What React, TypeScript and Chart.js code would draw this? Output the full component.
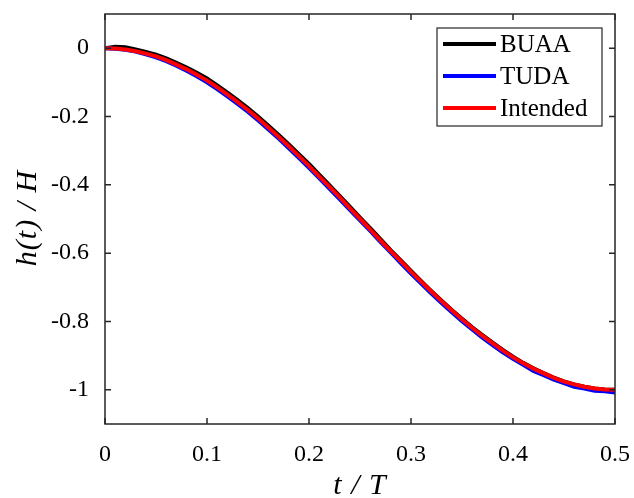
import React, { useEffect, useRef } from "react";
import { Chart, registerables } from "chart.js";

Chart.register(...registerables);

const T_VALUES = [
  0, 0.01, 0.02, 0.03, 0.04, 0.05, 0.06, 0.07, 0.08, 0.09,
  0.1, 0.11, 0.12, 0.13, 0.14, 0.15, 0.16, 0.17, 0.18, 0.19,
  0.2, 0.21, 0.22, 0.23, 0.24, 0.25, 0.26, 0.27, 0.28, 0.29,
  0.3, 0.31, 0.32, 0.33, 0.34, 0.35, 0.36, 0.37, 0.38, 0.39,
  0.4, 0.41, 0.42, 0.43, 0.44, 0.45, 0.46, 0.47, 0.48, 0.49, 0.5,
];

const BUAA = [
  0, 0.004, 0.003, -0.004, -0.011, -0.019, -0.03, -0.043, -0.057, -0.072,
  -0.089, -0.109, -0.13, -0.152, -0.175, -0.2, -0.226, -0.253, -0.281, -0.31,
  -0.339, -0.37, -0.401, -0.432, -0.464, -0.496, -0.527, -0.559, -0.591, -0.621,
  -0.652, -0.682, -0.711, -0.739, -0.766, -0.792, -0.817, -0.84, -0.862, -0.883,
  -0.903, -0.921, -0.937, -0.951, -0.964, -0.975, -0.984, -0.991, -0.996, -0.999, -1.0,
];

const TUDA = [
  0, -0.002, -0.005, -0.01, -0.018, -0.027, -0.038, -0.051, -0.066, -0.082,
  -0.1, -0.12, -0.141, -0.163, -0.186, -0.211, -0.237, -0.264, -0.292, -0.321,
  -0.35, -0.38, -0.411, -0.442, -0.473, -0.504, -0.535, -0.567, -0.598, -0.629,
  -0.66, -0.689, -0.718, -0.746, -0.773, -0.799, -0.823, -0.847, -0.869, -0.89,
  -0.909, -0.927, -0.945, -0.957, -0.97, -0.98, -0.991, -0.996, -1.003, -1.004, -1.008,
];

const INTENDED = [
  0, -0.001, -0.004, -0.009, -0.016, -0.024, -0.035, -0.048, -0.062, -0.078,
  -0.095, -0.115, -0.136, -0.158, -0.181, -0.206, -0.232, -0.259, -0.287, -0.316,
  -0.345, -0.376, -0.406, -0.437, -0.469, -0.5, -0.531, -0.563, -0.594, -0.624,
  -0.655, -0.684, -0.713, -0.741, -0.768, -0.794, -0.819, -0.842, -0.864, -0.885,
  -0.905, -0.922, -0.938, -0.952, -0.965, -0.976, -0.984, -0.991, -0.996, -0.999, -1.0,
];

const X_TICKS = [0, 0.1, 0.2, 0.3, 0.4, 0.5];
const Y_TICKS = [-1, -0.8, -0.6, -0.4, -0.2, 0];
const X_TICK_LABELS = ["0", "0.1", "0.2", "0.3", "0.4", "0.5"];
const Y_TICK_LABELS = ["-1", "-0.8", "-0.6", "-0.4", "-0.2", "0"];
const SERIES_NAMES = ["BUAA", "TUDA", "Intended"];
const SERIES_COLORS = ["#000000", "#0000ff", "#ff0000"];
const X_TITLE = "t / T";
const Y_TITLE = "h(t) / H";

const AXIS_COLOR = "#262626";
const FONT = '"Liberation Serif", "Times New Roman", serif';

function toPoints(ys: number[]) {
  return ys.map((y, i) => ({ x: T_VALUES[i], y }));
}

const framePlugin = {
  id: "framePlugin",
  afterDatasetsDraw(chart: any) {
    const { ctx, chartArea, scales } = chart;
    const { left, right, top, bottom } = chartArea;
    ctx.save();
    ctx.strokeStyle = AXIS_COLOR;
    ctx.lineWidth = 1.5;
    ctx.strokeRect(left, top, right - left, bottom - top);
    const tl = 6;
    ctx.beginPath();
    X_TICKS.forEach((v) => {
      const px = scales.x.getPixelForValue(v);
      ctx.moveTo(px, bottom);
      ctx.lineTo(px, bottom - tl);
      ctx.moveTo(px, top);
      ctx.lineTo(px, top + tl);
    });
    Y_TICKS.forEach((v) => {
      const py = scales.y.getPixelForValue(v);
      ctx.moveTo(left, py);
      ctx.lineTo(left + tl, py);
      ctx.moveTo(right, py);
      ctx.lineTo(right - tl, py);
    });
    ctx.stroke();

    // legend
    const lx = 437, ly = 28, lw = 165, lh = 98;
    ctx.fillStyle = "#ffffff";
    ctx.fillRect(lx, ly, lw, lh);
    ctx.lineWidth = 1.2;
    ctx.strokeStyle = AXIS_COLOR;
    ctx.strokeRect(lx, ly, lw, lh);
    ctx.font = `25px ${FONT}`;
    ctx.textBaseline = "middle";
    ctx.textAlign = "left";
    SERIES_NAMES.forEach((name, i) => {
      const y = ly + 16 + i * 32;
      ctx.strokeStyle = SERIES_COLORS[i];
      ctx.lineWidth = 4;
      ctx.beginPath();
      ctx.moveTo(443, y);
      ctx.lineTo(496, y);
      ctx.stroke();
      ctx.fillStyle = "#000000";
      ctx.fillText(name, 500, y + 1);
    });

    // axis titles
    ctx.fillStyle = "#000000";
    ctx.font = `italic 30px ${FONT}`;
    ctx.textAlign = "center";
    ctx.textBaseline = "alphabetic";
    (ctx as any).letterSpacing = "1px";
    ctx.fillText(X_TITLE, 360, 494);
    ctx.save();
    ctx.translate(36, 218);
    ctx.rotate(-Math.PI / 2);
    ctx.fillText(Y_TITLE, 0, 0);
    ctx.restore();
    (ctx as any).letterSpacing = "0px";
    ctx.restore();
  },
};

export default function App() {
  const canvasRef = useRef<HTMLCanvasElement | null>(null);

  useEffect(() => {
    if (!canvasRef.current) return;
    const chart = new Chart(canvasRef.current, {
      type: "line",
      data: {
        datasets: [
          {
            label: SERIES_NAMES[0],
            data: toPoints(BUAA),
            borderColor: SERIES_COLORS[0],
            borderWidth: 4,
            pointRadius: 0,
            order: 3,
          },
          {
            label: SERIES_NAMES[1],
            data: toPoints(TUDA),
            borderColor: SERIES_COLORS[1],
            borderWidth: 4,
            pointRadius: 0,
            order: 2,
          },
          {
            label: SERIES_NAMES[2],
            data: toPoints(INTENDED),
            borderColor: SERIES_COLORS[2],
            borderWidth: 4,
            pointRadius: 0,
            order: 1,
          },
        ],
      },
      options: {
        animation: false,
        responsive: true,
        maintainAspectRatio: false,
        layout: { padding: { top: 14, right: 19, left: 0, bottom: 0 } },
        plugins: { legend: { display: false }, tooltip: { enabled: false } },
        scales: {
          x: {
            type: "linear",
            min: 0,
            max: 0.5,
            grid: { display: false },
            border: { display: false },
            afterBuildTicks: (s: any) => {
              s.ticks = X_TICKS.map((v) => ({ value: v }));
            },
            afterFit: (s: any) => {
              s.height = 74;
              s.paddingLeft = 0;
              s.paddingRight = 0;
            },
            ticks: {
              color: "#000000",
              font: { family: FONT, size: 24 },
              padding: 8,
              maxRotation: 0,
              callback: (v: any) => {
                const i = X_TICKS.findIndex((t) => Math.abs(t - v) < 1e-9);
                return i >= 0 ? X_TICK_LABELS[i] : "";
              },
            },
          },
          y: {
            type: "linear",
            min: -1.1,
            max: 0.1,
            grid: { display: false },
            border: { display: false },
            afterBuildTicks: (s: any) => {
              s.ticks = Y_TICKS.map((v) => ({ value: v }));
            },
            afterFit: (s: any) => {
              s.width = 105;
              s.paddingTop = 0;
              s.paddingBottom = 0;
            },
            ticks: {
              color: "#000000",
              font: { family: FONT, size: 24 },
              padding: 8,
              callback: (v: any) => {
                const i = Y_TICKS.findIndex((t) => Math.abs(t - v) < 1e-9);
                return i >= 0 ? Y_TICK_LABELS[i] : "";
              },
            },
          },
        },
      },
      plugins: [framePlugin],
    });
    return () => chart.destroy();
  }, []);

  return (
    <div
      style={{
        position: "fixed",
        left: 0,
        top: 0,
        width: 634,
        height: 498,
        background: "#ffffff",
      }}
    >
      <canvas ref={canvasRef} />
    </div>
  );
}
